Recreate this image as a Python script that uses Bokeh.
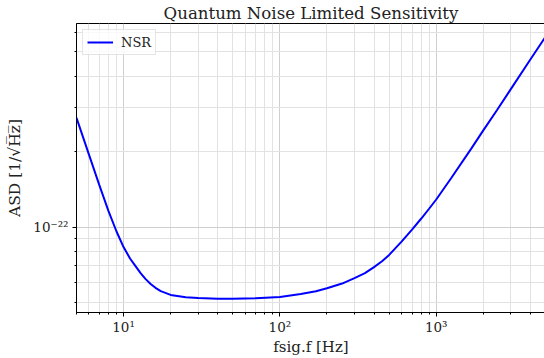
from bokeh.plotting import figure
from bokeh.models import Range1d, FixedTicker, CustomJSTickFormatter, Legend, LegendItem
from bokeh.embed import file_html
from bokeh.resources import INLINE

# Data
freq = [5, 6, 7, 8, 9, 10, 11, 11.8, 12.85, 13.8, 14.9, 16, 17.3, 20, 25, 30, 40, 50,
        70, 100, 136, 170, 200, 250, 300, 350, 400, 450, 500, 600, 700, 800, 900, 1000,
        1248, 1675, 2000, 2450, 3000, 4000, 5000]
nsr = [2.73e-22, 1.95e-22, 1.47e-22, 1.16e-22, 9.62e-23, 8.32e-23, 7.49e-23, 7.05e-23,
       6.55e-23, 6.21e-23, 5.93e-23, 5.72e-23, 5.55e-23, 5.36e-23, 5.25e-23, 5.21e-23,
       5.18e-23, 5.18e-23, 5.2e-23, 5.26e-23, 5.4e-23, 5.54e-23, 5.7e-23, 5.95e-23,
       6.25e-23, 6.55e-23, 6.92e-23, 7.3e-23, 7.74e-23, 8.75e-23, 9.77e-23, 1.079e-22,
       1.183e-22, 1.288e-22, 1.57e-22, 2.056e-22, 2.43e-22, 2.93e-22, 3.55e-22,
       4.66e-22, 5.75e-22]

x_major = [10, 100, 1000]
x_minor = [5, 6, 7, 8, 9, 20, 30, 40, 50, 60, 70, 80, 90,
           200, 300, 400, 500, 600, 700, 800, 900, 2000, 3000, 4000, 5000]
y_major = [1e-22]
y_minor = [5e-23, 6e-23, 7e-23, 8e-23, 9e-23, 2e-22, 3e-22, 4e-22, 5e-22, 6e-22]

title_text = "Quantum Noise Limited Sensitivity"
xlabel = "fsig.f [Hz]"
ylabel = "ASD [1/\u221aH\u0305z\u0305]"
series_name = "NSR"

FONT = "DejaVu Serif"

p = figure(width=545, height=358, x_axis_type="log", y_axis_type="log",
           x_range=Range1d(5, 5000), y_range=Range1d(4.56e-23, 6.49e-22),
           output_backend="svg", toolbar_location=None,
           min_border_left=76, min_border_right=0, min_border_top=4, min_border_bottom=4)

p.title.text = title_text
p.title.align = "center"
p.title.text_font = FONT
p.title.text_font_size = "16.6px"
p.title.text_font_style = "normal"
p.title.text_color = "#222222"
p.title.standoff = 2
p.title.offset = 0

fmt = CustomJSTickFormatter(code="""
const sup = {'0':'\u2070','1':'\u00b9','2':'\u00b2','3':'\u00b3','4':'\u2074','5':'\u2075','6':'\u2076','7':'\u2077','8':'\u2078','9':'\u2079','-':'\u207b'};
const e = Math.round(Math.log10(tick));
return '10' + String(e).split('').map(c => sup[c]).join('');
""")

p.xaxis.ticker = FixedTicker(ticks=x_major, minor_ticks=x_minor)
p.yaxis.ticker = FixedTicker(ticks=y_major, minor_ticks=y_minor)
p.xaxis.formatter = fmt
p.yaxis.formatter = fmt

for ax in (p.xaxis, p.yaxis):
    ax.axis_line_color = "black"
    ax.axis_line_width = 1
    ax.major_tick_line_color = "black"
    ax.minor_tick_line_color = "black"
    ax.major_tick_out = 4
    ax.major_tick_in = 0
    ax.minor_tick_out = 2
    ax.minor_tick_in = 0
    ax.major_label_text_font = FONT
    ax.major_label_text_font_size = "13.5px"
    ax.major_label_text_color = "#222222"
    ax.axis_label_text_font = FONT
    ax.axis_label_text_font_size = "15.5px"
    ax.axis_label_text_font_style = "normal"
    ax.axis_label_text_color = "#222222"

p.xaxis.axis_label = xlabel
p.yaxis.axis_label = ylabel
p.xaxis.axis_label_text_font_size = "15px"
p.xaxis.major_label_standoff = 2
p.xaxis.axis_label_standoff = 0
p.yaxis.major_label_standoff = 4
p.yaxis.axis_label_standoff = 6

for g in (p.xgrid, p.ygrid):
    g.grid_line_color = "#cfcfcf"
    g.grid_line_width = 1
    g.minor_grid_line_color = "#e2e2e2"
    g.minor_grid_line_width = 1

p.outline_line_color = "black"
p.outline_line_width = 1
p.outline_line_alpha = 1
p.background_fill_color = "white"
p.border_fill_color = "white"

r = p.line(freq, nsr, line_color="#0000ff", line_width=2)

legend = Legend(items=[LegendItem(label=series_name, renderers=[r])], location="top_left")
legend.label_text_font = FONT
legend.label_text_font_size = "13px"
legend.label_text_color = "#222222"
legend.border_line_color = "#cccccc"
legend.border_line_width = 1
legend.background_fill_alpha = 0.8
legend.glyph_width = 26
legend.glyph_height = 16
legend.padding = 4
legend.spacing = 0
legend.margin = 6
legend.label_standoff = 8
p.add_layout(legend)

open("out.html", "w").write(file_html(p, INLINE))
